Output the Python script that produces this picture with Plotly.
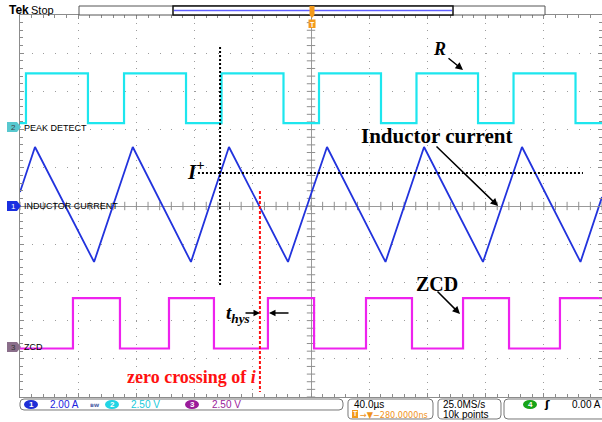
import plotly.graph_objects as go

# ---------------- acquisition (time in µs, 40 µs/div, 10 divisions) ----------------
T_SPAN = (-200.0, 200.0)

# CH1  inductor current: triangle vertices
il_time = [-200.0, -189.7, -149.1, -122.5, -82.5, -56.4, -15.8, 11.0, 51.2, 77.7, 118.2, 145.0, 185.2, 200.0]
il_amps = [0.73, 3.09, -2.93, 3.09, -2.93, 3.09, -2.93, 3.09, -2.93, 3.09, -2.93, 3.09, -2.93, 0.47]

# CH2  PEAK DETECT: edge times, trace starts low
pd_edges = [-195.9, -153.3, -128.5, -85.9, -61.5, -18.9, 5.5, 48.1, 72.5, 114.8, 139.2, 181.8]
pd_low_high = [0.25, 3.5]          # V

# CH3  ZCD: edge times, trace starts low
zcd_edges = [-163.6, -131.3, -97.6, -66.7, -29.6, 2.1, 37.8, 69.4, 104.5, 136.1, 171.1]
zcd_low_high = [-0.1, 3.2]         # V

# markers drawn over the waveforms
i_plus = 1.73        # A, peak-detect threshold
t_iplus = -62.5      # µs, current crosses I+
t_zero = -35.1       # µs, current crosses zero (falling)

# vertical settings: (units/div, position in div)
CH1 = (2.0, 0.0)
CH2 = (2.5, 2.07)
CH3 = (2.5, -3.69)

# ---------------- page geometry ----------------
W, H = 602, 422
ML, MR, MT, MB = 20, 0, 15, 25
PW, PH = W - ML - MR, H - MT - MB


def fx(x):
    return (x - ML) / PW


def fy(y):
    return (H - MB - y) / PH


def to_div(vals, ch):
    scale, pos = ch
    return [v / scale + pos for v in vals]


def square_wave(edges, levels, t0, t1):
    lo, hi = levels
    xs, ys, cur = [t0], [lo], lo
    for e in edges:
        nxt = hi if cur == lo else lo
        xs += [e, e]
        ys += [cur, nxt]
        cur = nxt
    xs.append(t1)
    ys.append(cur)
    return xs, ys


def path(points, close=True):
    s = "M " + " L ".join(f"{fx(x):.5f},{fy(y):.5f}" for x, y in points)
    return s + (" Z" if close else "")


def rrect(x0, y0, x1, y1, r):
    p = lambda x, y: f"{fx(x):.5f},{fy(y):.5f}"
    return (f"M {p(x0 + r, y0)} L {p(x1 - r, y0)} Q {p(x1, y0)} {p(x1, y0 + r)} "
            f"L {p(x1, y1 - r)} Q {p(x1, y1)} {p(x1 - r, y1)} L {p(x0 + r, y1)} "
            f"Q {p(x0, y1)} {p(x0, y1 - r)} L {p(x0, y0 + r)} Q {p(x0, y0)} {p(x0 + r, y0)} Z")


fig = go.Figure()

# graticule centre-line ticks
minor_t = [T_SPAN[0] + 8 * k for k in range(51)]
minor_v = [-5 + 0.2 * k for k in range(51)]
fig.add_trace(go.Scatter(x=minor_t, y=[0] * len(minor_t), mode="markers", hoverinfo="skip",
                         marker=dict(symbol="line-ns", size=6, line=dict(width=1, color="#8f8f8f"))))
fig.add_trace(go.Scatter(x=[0] * len(minor_v), y=minor_v, mode="markers", hoverinfo="skip",
                         marker=dict(symbol="line-ew", size=6, line=dict(width=1, color="#8f8f8f"))))

# waveforms
px_, py_ = square_wave(pd_edges, pd_low_high, *T_SPAN)
fig.add_trace(go.Scatter(x=px_, y=to_div(py_, CH2), mode="lines",
                         line=dict(color="#1de6ee", width=2.2), name="PEAK DETECT"))
fig.add_trace(go.Scatter(x=il_time, y=to_div(il_amps, CH1), mode="lines",
                         line=dict(color="#2233dd", width=1.8), name="INDUCTOR CURRENT"))
zx, zy = square_wave(zcd_edges, zcd_low_high, *T_SPAN)
fig.add_trace(go.Scatter(x=zx, y=to_div(zy, CH3), mode="lines",
                         line=dict(color="#ee22ee", width=2.2), name="ZCD"))

shapes = []
# I+ threshold and its crossing
shapes.append(dict(type="line", xref="x", yref="y", x0=-77.7, x1=186.9,
                   y0=i_plus / CH1[0] + CH1[1], y1=i_plus / CH1[0] + CH1[1],
                   line=dict(color="black", width=2, dash="2px,2px")))
shapes.append(dict(type="line", xref="x", yref="y", x0=t_iplus, x1=t_iplus, y0=4.16, y1=-2.07,
                   line=dict(color="black", width=2, dash="2px,2px")))
# zero crossing of i
shapes.append(dict(type="line", xref="x", yref="y", x0=t_zero, x1=t_zero, y0=0.39, y1=-4.87,
                   line=dict(color="#ff1010", width=2, dash="3px,2px")))

# channel ground markers
for yc, fill in [(127, "#58c8cf"), (206, "#1a2fe0"), (347, "#8a6e8a")]:
    shapes.append(dict(type="path", xref="paper", yref="paper",
                       path=path([(7, yc - 5), (17, yc - 5), (21, yc), (17, yc + 5), (7, yc + 5)]),
                       fillcolor=fill, line=dict(width=0)))

# record-length bar and trigger marker
shapes.append(dict(type="rect", xref="paper", yref="paper", x0=fx(79), x1=fx(545), y0=fy(6), y1=fy(15),
                   line=dict(color="#555555", width=1), fillcolor="white"))
shapes.append(dict(type="rect", xref="paper", yref="paper", x0=fx(173), x1=fx(453), y0=fy(6), y1=fy(15),
                   line=dict(color="#111111", width=1.5), fillcolor="white"))
shapes.append(dict(type="line", xref="paper", yref="paper", x0=fx(174), x1=fx(452), y0=fy(10.5), y1=fy(10.5),
                   line=dict(color="#6060ff", width=1.5)))
shapes.append(dict(type="path", xref="paper", yref="paper",
                   path=path([(309.5, 6), (314.5, 6), (314.5, 15), (312, 18), (309.5, 15)]),
                   fillcolor="#f39a1c", line=dict(width=0)))
shapes.append(dict(type="rect", xref="paper", yref="paper", x0=fx(308.5), x1=fx(315.5), y0=fy(19.5), y1=fy(28),
                   fillcolor="#f39a1c", line=dict(width=0)))

# status bar boxes
for x0, y0, x1, y1 in [(20, 399, 343, 410), (348, 399, 433, 419), (438, 399, 501, 419), (504, 399, 612, 419)]:
    shapes.append(dict(type="path", xref="paper", yref="paper", path=rrect(x0, y0, x1, y1, 4),
                       line=dict(color="#777777", width=1), fillcolor="white"))
# channel badges
for xc, fill in [(31, "#1f2fd6"), (112, "#22d4e4"), (192, "#9a1c9a"), (530, "#18a418")]:
    shapes.append(dict(type="circle", xref="paper", yref="paper", x0=fx(xc - 7), x1=fx(xc + 7),
                       y0=fy(400), y1=fy(409), fillcolor=fill, line=dict(width=0)))
shapes.append(dict(type="rect", xref="paper", yref="paper", x0=fx(352), x1=fx(358), y0=fy(410), y1=fy(418),
                   fillcolor="#f39a1c", line=dict(width=0)))

annotations = []


def note(text, x, y, size, color="black", family="Liberation Serif", xanchor="center", yanchor="middle"):
    annotations.append(dict(text=text, x=fx(x), y=fy(y), xref="paper", yref="paper", showarrow=False,
                            xanchor=xanchor, yanchor=yanchor, font=dict(size=size, color=color, family=family)))


def arrow(tail, head, width=1.5):
    annotations.append(dict(text="", x=fx(head[0]), y=fy(head[1]), xref="paper", yref="paper",
                            ax=tail[0] - head[0], ay=tail[1] - head[1], showarrow=True,
                            arrowhead=2, arrowsize=1, arrowwidth=width, arrowcolor="black", standoff=0))


# explanatory labels
note("<b><i>R</i></b>", 439, 49, 18)
arrow((447, 57), (463, 70))
note("<b>Inductor current</b>", 436, 136, 21)
arrow((435, 145), (498, 206))
note("<b>ZCD</b>", 437, 284, 20)
arrow((436, 290), (460, 314))
note("<b><i>I</i></b><sup><b>+</b></sup>", 196, 170, 21)
note("<b><i>t<sub>hys</sub></i></b>", 238, 314, 19)
arrow((244, 313), (260, 313), 1.3)
arrow((290, 313), (269, 313), 1.3)
note("<b>zero crossing of <i>i</i></b>", 191, 377, 18, color="#ff1010")

# channel labels
sans = "Liberation Sans"
note("PEAK DETECT", 22, 128, 9, family=sans, xanchor="left")
note("INDUCTOR CURRENT", 22, 206, 9, family=sans, xanchor="left")
note("ZCD", 22, 347, 9, family=sans, xanchor="left")
note("2", 13, 127.5, 8, color="#444444", family=sans)
note("1", 13, 206.5, 8, color="white", family=sans)
note("3", 13, 347.5, 8, color="#333333", family=sans)

# top banner
note("<b>Tek</b>", 7, 10, 12, family=sans, xanchor="left")
note("Stop", 29, 10, 11, family=sans, xanchor="left")
note("<b>T</b>", 312, 24, 7, color="white", family=sans)

# status bar
note("<b>1</b>", 31, 404.5, 8, color="white", family=sans)
note("2.00 A", 48, 404.5, 10, color="#2222dd", family=sans, xanchor="left")
note("<b>ʙw</b>", 95, 404, 6, color="#5566aa", family="DejaVu Sans")
note("<b>2</b>", 112, 404.5, 8, color="white", family=sans)
note("2.50 V", 129, 404.5, 10, color="#16c9db", family=sans, xanchor="left")
note("<b>3</b>", 192, 404.5, 8, color="white", family=sans)
note("2.50 V", 210, 404.5, 10, color="#9a1c9a", family=sans, xanchor="left")
note("40.0µs", 352, 404.5, 10, family=sans, xanchor="left")
note("<b>T</b>", 355, 414, 7, color="white", family=sans)
note("→▼−280.0000ns", 358, 414.5, 9, color="#f0921a", family="DejaVu Sans Condensed", xanchor="left")
note("25.0MS/s", 441, 404.5, 10, family=sans, xanchor="left")
note("10k points", 441, 414.5, 10, family=sans, xanchor="left")
note("<b>4</b>", 530, 404.5, 8, color="white", family=sans)
note("<b>ʃ</b>", 547, 404.5, 11, family="DejaVu Sans")
note("0.00 A", 570, 404.5, 10, family=sans, xanchor="left")

axis_common = dict(showticklabels=False, showline=True, linecolor="#8c8c8c", linewidth=1, mirror="ticks",
                   ticks="inside", ticklen=4, tickcolor="#8c8c8c", zeroline=True, zerolinecolor="#9a9a9a",
                   zerolinewidth=1, gridcolor="#9c9c9c", gridwidth=1, fixedrange=True)

fig.update_layout(
    width=W, height=H, margin=dict(l=ML, r=MR, t=MT, b=MB, pad=0),
    paper_bgcolor="white", plot_bgcolor="white", showlegend=False,
    xaxis=dict(range=list(T_SPAN), dtick=40, griddash="1px,6.64px",
               minor=dict(dtick=8, ticks="inside", ticklen=3, tickcolor="#8c8c8c", showgrid=False), **axis_common),
    yaxis=dict(range=[-5, 5], dtick=1, griddash="1px,10.64px",
               minor=dict(dtick=0.2, ticks="inside", ticklen=3, tickcolor="#8c8c8c", showgrid=False), **axis_common),
    shapes=shapes, annotations=annotations,
)

fig.write_html("out.html")
